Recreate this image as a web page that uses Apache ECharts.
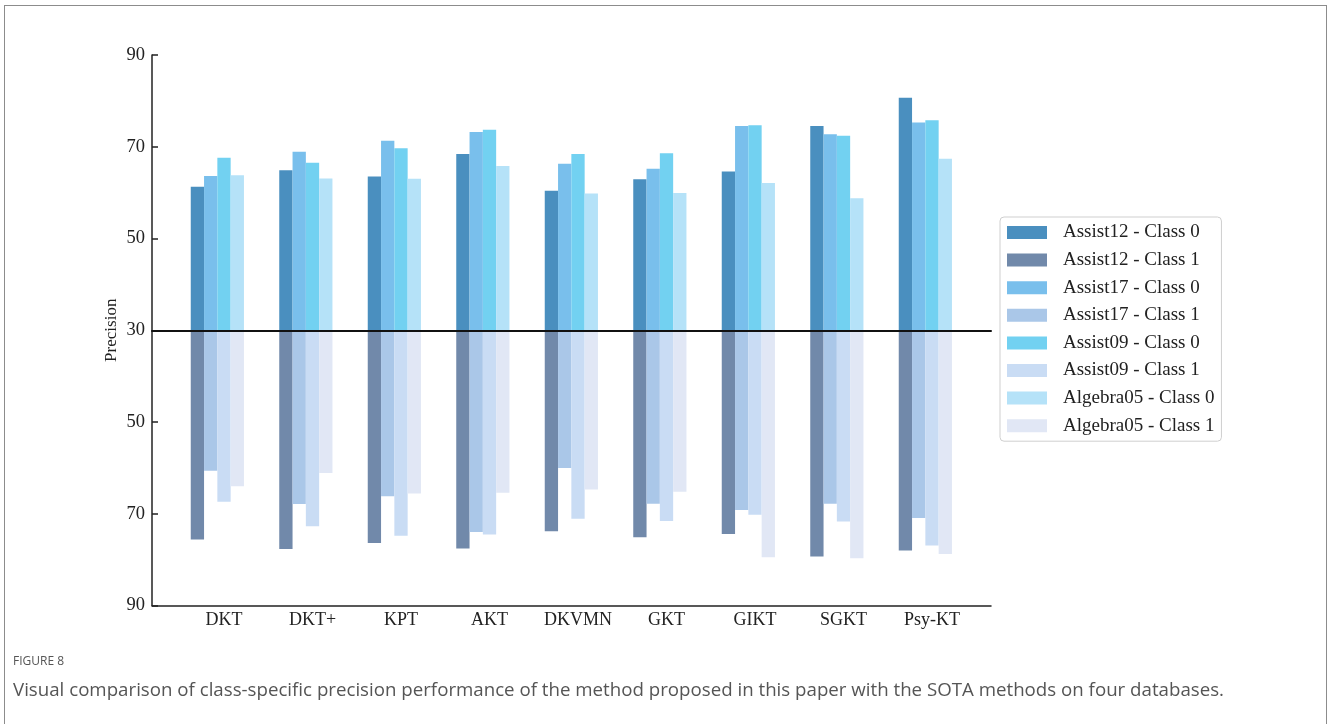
<!DOCTYPE html>
<html>
<head>
<meta charset="utf-8">
<script src="https://cdn.jsdelivr.net/npm/echarts@6/dist/echarts.min.js"></script>
<style>
  html, body { margin: 0; padding: 0; background: #fff; }
  #frame { position: absolute; left: 4px; top: 5px; width: 1323px; height: 760px;
           border: 1.5px solid #8c8c8c; border-bottom: none; box-sizing: border-box; }
  #chart { position: absolute; left: 0; top: 0; width: 1328px; height: 724px; }
</style>
</head>
<body>
<div id="frame"></div>
<div id="chart"></div>
<script>
// Methods compared (x categories)
const methods = ['DKT', 'DKT+', 'KPT', 'AKT', 'DKVMN', 'GKT', 'GIKT', 'SGKT', 'Psy-KT'];

// Class-specific precision (%) per dataset
const assist12Class0 = [61.3, 64.9, 63.5, 68.4, 60.4, 62.9, 64.6, 74.5, 80.7];
const assist12Class1 = [75.6, 77.7, 76.4, 77.6, 73.8, 75.1, 74.4, 79.3, 78.0];
const assist17Class0 = [63.6, 68.9, 71.3, 73.2, 66.3, 65.2, 74.5, 72.7, 75.3];
const assist17Class1 = [60.6, 67.9, 66.2, 74.0, 60.0, 67.8, 69.2, 67.8, 70.9];
const assist09Class0 = [67.6, 66.5, 69.7, 73.7, 68.4, 68.6, 74.7, 72.4, 75.8];
const assist09Class1 = [67.4, 72.7, 74.8, 74.5, 71.1, 71.6, 70.2, 71.7, 76.9];
const algebra05Class0 = [63.8, 63.1, 63.0, 65.8, 59.8, 59.9, 62.1, 58.8, 67.4];
const algebra05Class1 = [64.0, 61.1, 65.6, 65.4, 64.7, 65.2, 79.5, 79.7, 78.8];

// Both halves of the chart grow away from a common 30% baseline
const BASE = 30;
const up = arr => arr.map(v => v - BASE);
const down = arr => arr.map(v => -(v - BASE));

const serif = 'Liberation Serif';
const BAR_W = 13.3;

const seriesDefs = [
  { name: 'Assist12 - Class 0', stack: 'a12', color: '#4a8fbf', data: up(assist12Class0) },
  { name: 'Assist12 - Class 1', stack: 'a12', color: '#7189aa', data: down(assist12Class1) },
  { name: 'Assist17 - Class 0', stack: 'a17', color: '#79bfec', data: up(assist17Class0) },
  { name: 'Assist17 - Class 1', stack: 'a17', color: '#aac7e8', data: down(assist17Class1) },
  { name: 'Assist09 - Class 0', stack: 'a09', color: '#72d1f1', data: up(assist09Class0) },
  { name: 'Assist09 - Class 1', stack: 'a09', color: '#c9dcf4', data: down(assist09Class1) },
  { name: 'Algebra05 - Class 0', stack: 'alg', color: '#b5e2f8', data: up(algebra05Class0) },
  { name: 'Algebra05 - Class 1', stack: 'alg', color: '#e1e7f5', data: down(algebra05Class1) }
];

const series = seriesDefs.map(s => ({
  name: s.name,
  type: 'bar',
  stack: s.stack,
  xAxisIndex: 0,
  yAxisIndex: 0,
  barWidth: BAR_W,
  barGap: '0%',
  itemStyle: { color: s.color },
  emphasis: { disabled: true },
  data: s.data
}));

// empty slot on the right so each group sits slightly left of its tick
series.push({
  name: 'slot',
  type: 'bar',
  stack: 'slot',
  xAxisIndex: 0,
  yAxisIndex: 0,
  barWidth: BAR_W,
  barGap: '0%',
  silent: true,
  data: methods.map(() => null)
});

const chart = echarts.init(document.getElementById('chart'), null, { renderer: 'canvas' });

chart.setOption({
  animation: false,
  backgroundColor: 'transparent',
  title: {
    left: 13,
    top: 656,
    text: 'FIGURE 8',
    subtext: 'Visual comparison of class-specific precision performance of the method proposed in this paper with the SOTA methods on four databases.',
    itemGap: 13,
    padding: 0,
    textStyle: { fontFamily: 'Open Sans', fontSize: 12, fontWeight: 'normal', color: '#555' },
    subtextStyle: { fontFamily: 'Open Sans', fontSize: 18.7, color: '#555' }
  },
  legend: {
    orient: 'vertical',
    left: 1000,
    top: 217,
    data: seriesDefs.map(s => s.name),
    icon: 'rect',
    itemWidth: 40,
    itemHeight: 13,
    itemGap: 8.6,
    padding: [6, 7, 6, 7],
    borderColor: '#cfcfcf',
    borderWidth: 1,
    borderRadius: 4,
    textStyle: { fontFamily: serif, fontSize: 19, color: '#222', padding: [0, 0, 0, 11] },
    selectedMode: false
  },
  grid: [
    // bars
    { left: 179.75, top: 55, width: 796.5, height: 550.5, containLabel: false },
    // frame: y axis, bottom line and baseline
    { left: 152, top: 55, width: 839, height: 550.5, containLabel: false }
  ],
  xAxis: [
    {
      type: 'category',
      gridIndex: 0,
      data: methods,
      position: 'bottom',
      axisLine: { show: false },
      axisTick: { show: true, inside: true, alignWithLabel: true, length: 5,
                  lineStyle: { color: '#222', width: 1.5 } },
      axisLabel: { fontFamily: serif, fontSize: 18, color: '#222', margin: 6 },
      splitLine: { show: false }
    },
    {
      type: 'value',
      gridIndex: 1,
      min: 0, max: 1,
      position: 'bottom',
      axisLine: { show: true, onZero: false, lineStyle: { color: '#222', width: 1.5 } },
      axisTick: { show: false },
      axisLabel: { show: false },
      splitLine: { show: false }
    },
    {
      type: 'value',
      gridIndex: 1,
      min: 0, max: 1,
      position: 'top',
      z: 10,
      axisLine: { show: true, onZero: true, lineStyle: { color: '#111', width: 2 } },
      axisTick: { show: false },
      axisLabel: { show: false },
      splitLine: { show: false }
    }
  ],
  yAxis: [
    {
      type: 'value',
      gridIndex: 0,
      min: -60, max: 60, interval: 20,
      show: false,
      splitLine: { show: false }
    },
    {
      type: 'value',
      gridIndex: 1,
      min: -60, max: 60, interval: 20,
      name: 'Precision',
      nameLocation: 'middle',
      nameGap: 32,
      nameMoveOverlap: false,
      nameRotate: 90,
      nameTextStyle: { fontFamily: serif, fontSize: 17, color: '#222' },
      axisLine: { show: true, lineStyle: { color: '#222', width: 1.5 } },
      axisTick: { show: true, inside: true, length: 6, lineStyle: { color: '#222', width: 1.5 } },
      axisLabel: {
        fontFamily: serif, fontSize: 18.5, color: '#222', margin: 7,
        formatter: v => String(BASE + Math.abs(v))
      },
      splitLine: { show: false }
    }
  ],
  series: series
});
</script>
</body>
</html>
